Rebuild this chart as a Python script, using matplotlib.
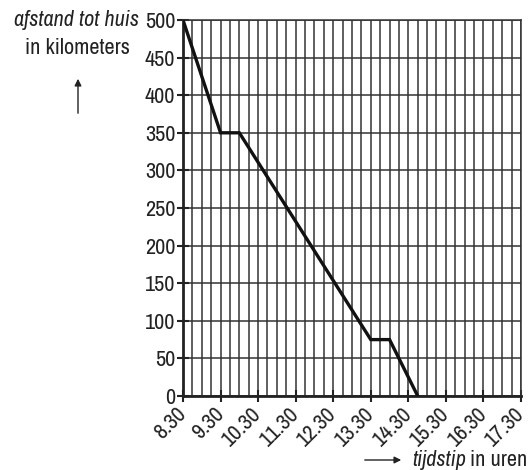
import numpy as np
import matplotlib.pyplot as plt
from matplotlib import font_manager

# time in hours, distance to home in km
tijd = [8.5, 9.5, 10.0, 13.5, 14.0, 14.75]
afstand = [500, 350, 350, 75, 75, 0]

x_ticks = [8.5, 9.5, 10.5, 11.5, 12.5, 13.5, 14.5, 15.5, 16.5, 17.5]
x_labels = ["8.30", "9.30", "10.30", "11.30", "12.30", "13.30", "14.30",
            "15.30", "16.30", "17.30"]
y_ticks = [0, 50, 100, 150, 200, 250, 300, 350, 400, 450, 500]

names = sorted(set(f.name for f in font_manager.fontManager.ttflist))
narrow = [n for n in names if 'Narrow' in n or 'Condensed' in n]
plt.rcParams['font.family'] = narrow[:1] + ['Roboto', 'DejaVu Sans']
fs = 16 if narrow else 12

fig = plt.figure(figsize=(5.29, 4.70), dpi=100)
ax = fig.add_axes([183/529, 74/470, 338/529, 376/470])

gridc = '#333333'
# vertical grid every quarter hour
for xv in np.arange(8.5, 17.5 + 0.01, 0.25):
    ax.axvline(xv, color=gridc, lw=1.1, zorder=1)
for yv in y_ticks:
    ax.axhline(yv, color=gridc, lw=1.1, zorder=1)

ax.plot(tijd, afstand, color='#111111', lw=2.4, zorder=3,
        solid_joinstyle='miter')

ax.set_xlim(8.5, 17.5)
ax.set_ylim(0, 500)
ax.set_xticks(x_ticks)
ax.set_xticklabels(x_labels, rotation=45, ha='right', va='center',
                   rotation_mode='anchor')
ax.set_yticks(y_ticks)
ax.tick_params(axis='both', direction='inout', length=9, width=1.5,
               color='#222222', labelsize=fs, labelcolor='#222222')
ax.tick_params(axis='y', pad=1)
ax.tick_params(axis='x', pad=6)

for s in ['top', 'right']:
    ax.spines[s].set_linewidth(1.1)
    ax.spines[s].set_color(gridc)
for s in ['left', 'bottom']:
    ax.spines[s].set_linewidth(2)
    ax.spines[s].set_color('#222222')

# y axis title with arrow
fig.text(77/529, 1 - 20/470, "afstand tot huis", style='italic',
         ha='center', va='center', fontsize=fs, color='#222222')
fig.text(77/529, 1 - 48/470, "in kilometers",
         ha='center', va='center', fontsize=fs, color='#222222')
fig.add_artist(plt.Annotation('', xy=(78/529, 1 - 76/470),
                              xytext=(78/529, 1 - 116/470),
                              xycoords='figure fraction',
                              arrowprops=dict(arrowstyle='-|>', color='#222222',
                                              lw=1, mutation_scale=10)))

# x axis title with arrow
fig.add_artist(plt.Annotation('', xy=(404/529, 10/470),
                              xytext=(362/529, 10/470),
                              xycoords='figure fraction',
                              arrowprops=dict(arrowstyle='-|>', color='#222222',
                                              lw=1, mutation_scale=10)))
t2 = fig.text(527/529, 10/470, "in uren",
              ha='right', va='center', fontsize=fs, color='#222222')
r = fig.canvas.get_renderer()
bb = t2.get_window_extent(r)
fig.text((bb.x0 - 4)/529, 10/470, "tijdstip", style='italic',
         ha='right', va='center', fontsize=fs, color='#222222')

fig.savefig('out.png', dpi=100)
